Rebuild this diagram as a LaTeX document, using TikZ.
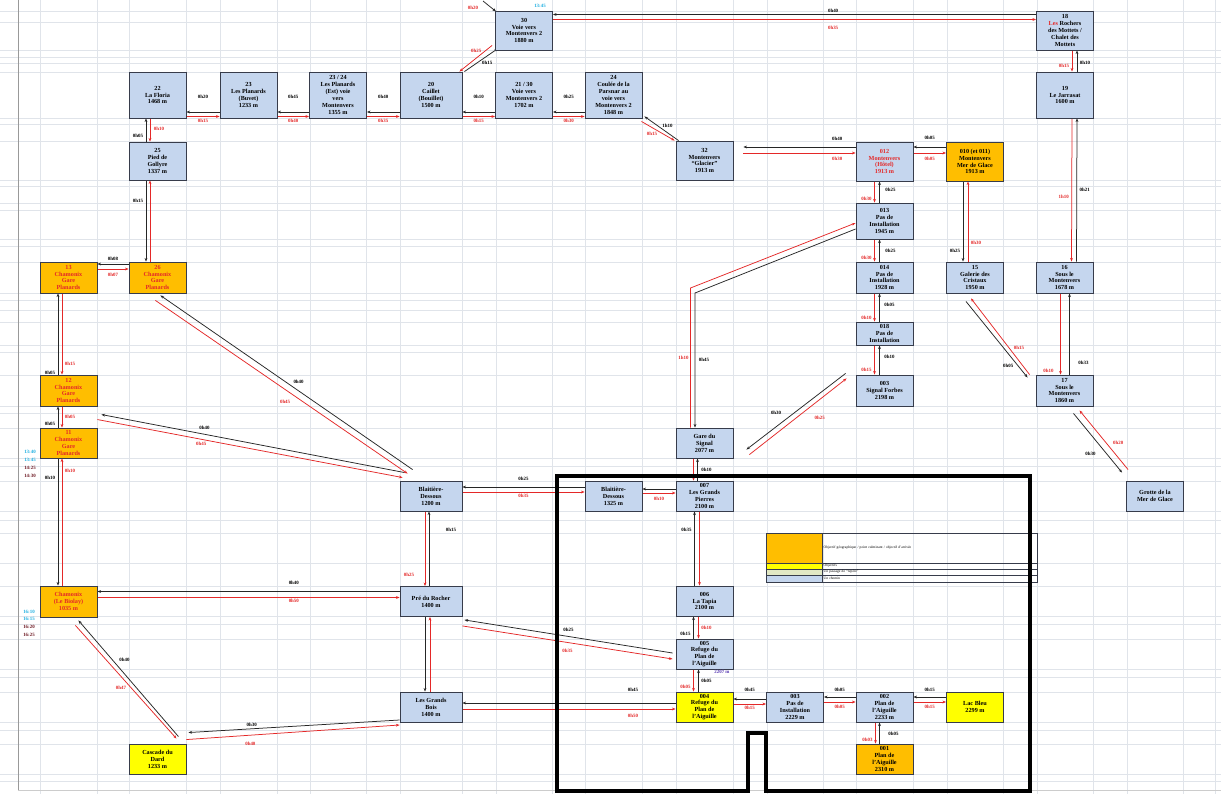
\documentclass[tikz,border=0pt]{standalone}
\usepackage{fontspec}
\setmainfont{Liberation Serif}
\usetikzlibrary{arrows.meta}
\definecolor{bl}{RGB}{197,214,238}
\definecolor{org}{RGB}{255,190,0}
\definecolor{yel}{RGB}{255,255,0}
\definecolor{bord}{RGB}{55,60,75}
\definecolor{rline}{RGB}{228,40,40}
\definecolor{gridc}{RGB}{224,228,234}
\definecolor{cyn}{RGB}{30,175,225}
\definecolor{mar}{RGB}{110,25,35}
\definecolor{purp}{RGB}{90,60,180}
\definecolor{pale}{RGB}{226,232,196}
\pgfdeclarelayer{gridlayer}
\pgfdeclarelayer{connlayer}
\pgfsetlayers{gridlayer,connlayer,main}
\tikzset{
  box/.style={draw=bord, line width=0.9pt, fill=bl, minimum width=57pt, minimum height=30pt, inner sep=0.5pt, align=center, font=\fontsize{6.2}{6.9}\selectfont\bfseries},
  obox/.style={box, fill=org},
  ybox/.style={box, fill=yel},
  arrowtip/.style={-{Stealth[length=3.6pt,width=2.8pt]}},
  bk/.style={draw=black!85, line width=0.75pt, arrowtip},
  rd/.style={draw=rline, line width=0.75pt, arrowtip},
  lb/.style={font=\fontsize{4.9}{4.9}\selectfont\bfseries, text=black, inner sep=0.6pt},
  lr/.style={lb, text=rline},
  lc/.style={lb, text=cyn},
  lm/.style={lb, text=mar},
  gl/.style={draw=gridc, line width=0.5pt},
  legbox/.style={draw=bord, line width=0.45pt, minimum width=56pt, inner sep=0pt},
  legtxt/.style={draw=bord, line width=0.45pt, minimum width=215pt, inner sep=0.8pt, text width=212pt, align=left, anchor=west, font=\fontsize{3.6}{3.8}\selectfont},
}
\begin{document}
\begin{tikzpicture}[x=1pt,y=-1pt]
\useasboundingbox (0,0) rectangle (1221,794);

\begin{pgfonlayer}{gridlayer}
\fill[white] (0,0) rectangle (1221,794);
\foreach \x in {40,97,129,186,220,277,310,366,400,462,496,552,585,642,676,733,767,823,856,913,947,1003,1037,1093,1127,1183,1215}
  \draw[gl] (\x,0) -- (\x,794);
\foreach \y in {11,22,50,57,63,72,118,124,141,180,186,203,210,239,246,262,293,300,310,322,345,352,375,406,413,428,458,466,481,511,520,533,563,586,616,624,639,669,677,692,722,730,744,774,781}
  \draw[gl] (0,\y) -- (1221,\y);
\draw[draw=black!40, line width=0.6pt] (18,0) -- (18,790);
\draw[draw=black!20, line width=0.5pt] (18,790) -- (1221,790);
\end{pgfonlayer}

% ---------- nodes ----------
\node[box, minimum height=46pt] (n22) at (157.5,95) {22\\La Floria\\1468 m};
\node[box, minimum height=46pt] (n23) at (248.5,95) {23\\Les Planards\\(Buvet)\\1233 m};
\node[box, minimum height=46pt] (n2324) at (338,95) {23 / 24\\Les Planards\\(Est) voie\\vers\\Montenvers\\1355 m};
\node[box, minimum height=46pt, minimum width=62pt] (n20) at (431,95) {20\\Caillet\\(Bouillet)\\1500 m};
\node[box, minimum height=46pt] (n21) at (524,95) {21 / 30\\Voie vers\\Montenvers 2\\1702 m};
\node[box, minimum height=46pt] (n24) at (613.5,95) {24\\Coulée de la\\Parsnar au\\voie vers\\Montenvers 2\\1848 m};
\node[box, minimum height=39pt] (n30) at (524,30.5) {30\\Voie vers\\Montenvers 2\\1880 m};
\node[box, minimum height=38pt] (n25) at (157.5,161) {25\\Pied de\\Gollyre\\1337 m};
\node[box, minimum height=39pt] (n32) at (704.5,160.5) {32\\Montenvers\\“Glacier”\\1913 m};
\node[box, minimum height=39pt] (n18) at (1065,30.5) {18\\\textcolor{rline}{Les} Rochers\\des Mottets /\\Chalet des\\Mottets};
\node[box, minimum height=46pt] (n19) at (1065,95) {19\\Le Jarrasat\\1600 m};
\node[box, minimum height=39pt, text=rline] (n012) at (884.5,161.5) {012\\Montenvers\\(Hôtel)\\1913 m};
\node[obox, minimum height=39pt] (n010) at (975,161.5) {010 (et 011)\\Montenvers\\Mer de Glace\\1913 m};
\node[box, minimum height=36pt] (n013) at (884.5,221) {013\\Pas de\\Installation\\1945 m};
\node[box, minimum height=31pt] (n014) at (884.5,277.5) {014\\Pas de\\Installation\\1928 m};
\node[box, minimum height=23pt] (n018) at (884.5,333.5) {018\\Pas de\\Installation};
\node[box, minimum height=31pt] (sigf) at (884.5,390.5) {003\\Signal Forbes\\2198 m};
\node[box, minimum height=31pt] (n15) at (975,277.5) {15\\Galerie des\\Cristaux\\1950 m};
\node[box, minimum height=31pt] (n16) at (1064.5,277.5) {16\\Sous le\\Montenvers\\1678 m};
\node[box, minimum height=31pt] (n17) at (1064.5,390.5) {17\\Sous le\\Montenvers\\1860 m};
\node[box] (grotte) at (1155,496) {Grotte de la\\Mer de Glace};

\node[obox, minimum height=31pt, text=rline] (l1) at (68.5,277.5) {13\\Chamonix\\Gare\\Planards};
\node[obox, minimum height=31pt, text=rline] (l2) at (157.5,277.5) {26\\Chamonix\\Gare\\Planards};
\node[obox, minimum height=31pt, text=rline] (l3) at (68.5,390.5) {12\\Chamonix\\Gare\\Planards};
\node[obox, minimum height=30pt, text=rline] (l4) at (68.5,443) {11\\Chamonix\\Gare\\Planards};
\node[obox, minimum height=31pt, text=rline] (biolay) at (68.5,601.5) {Chamonix\\(Le Biolay)\\1035 m};
\node[ybox] (cascade) at (157.5,759) {Cascade du\\Dard\\1233 m};

\node[box, minimum width=62pt] (blaitA) at (431,496) {Blaitière-\\Dessous\\1200 m};
\node[box, minimum width=62pt] (pre) at (431,601.5) {Pré du Rocher\\1400 m};
\node[box, minimum width=62pt] (bois) at (431,707) {Les Grands\\Bois\\1400 m};
\node[box] (blaitB) at (613.5,496) {Blaitière-\\Dessous\\1325 m};
\node[box] (gare) at (704.5,443) {Gare du\\Signal\\2077 m};
\node[box] (n007) at (704.5,496) {007\\Les Grands\\Pierres\\2100 m};
\node[box] (n006) at (704.5,601) {006\\La Tapia\\2100 m};
\node[box] (n005) at (704.5,654) {005\\Refuge du\\Plan de\\l'Aiguille};
\node[ybox] (n004) at (704.5,707) {004\\Refuge du\\Plan de\\l'Aiguille};
\node[box] (pas3) at (795,707) {003\\Pas de\\Installation\\2229 m};
\node[box] (n002) at (884.5,707) {002\\Plan de\\l'Aiguille\\2233 m};
\node[ybox] (lac) at (975,707) {Lac Bleu\\2299 m};
\node[obox] (n001) at (884.5,759) {001\\Plan de\\l'Aiguille\\2310 m};

% small texts
\node[lc] (t30) at (540,6) {13:45};
\node[lc] (ta) at (30,452) {13:40};
\node[lc] (tb) at (30,460) {13:45};
\node[lm] (tc) at (30,468) {14:25};
\node[lm] (td) at (30,476) {14:30};
\node[lc] (te) at (29,612) {16:10};
\node[lc] (tf) at (29,619) {16:15};
\node[lm] (tg) at (29,627) {16:20};
\node[lm] (th) at (29,635) {16:25};
\node[lb, text=purp] (alt5) at (722,672) {2207 m};
\node[lr] (tin30) at (473,8) {0h20};

% legend
\node[legbox, fill=org, minimum height=30pt] (lgo) at (794,548) {};
\node[legtxt, minimum height=30pt] (lgot) at (822,548) {Objectif géographique / point culminant / objectif d'arrivée};
\node[legbox, fill=yel, minimum height=6pt] (lgy) at (794,566) {};
\node[legtxt, minimum height=6pt] (lgyt) at (822,566) {Objectifs};
\node[legbox, fill=pale, minimum height=6pt] (lgp) at (794,572) {};
\node[legtxt, minimum height=6pt] (lgpt) at (822,572) {Un passage de “repère”};
\node[legbox, fill=bl, minimum height=7pt] (lgb) at (794,578.5) {};
\node[legtxt, minimum height=7pt] (lgbt) at (822,578.5) {Un chemin};

% thick frame
\draw[line width=4.5pt, line join=miter] (557,476) -- (1030,476) -- (1030,791) -- (766,791) -- (766,733) -- (748,733) -- (748,791) -- (557,791) -- cycle;

% ---------- connectors ----------
\begin{pgfonlayer}{connlayer}
% top row
\draw[bk] ([yshift=-17pt]n23.west) -- node[lb,above=12pt]{0h20} ([yshift=-17pt]n22.east);
\draw[rd] ([yshift=-21.5pt]n22.east) -- node[lr,below=2pt]{0h15} ([yshift=-21.5pt]n23.west);
\draw[bk] ([yshift=-17pt]n2324.west) -- node[lb,above=12pt]{0h45} ([yshift=-17pt]n23.east);
\draw[rd] ([yshift=-21.5pt]n23.east) -- node[lr,below=2pt]{0h40} ([yshift=-21.5pt]n2324.west);
\draw[bk] ([yshift=-17pt]n20.west) -- node[lb,above=12pt]{0h40} ([yshift=-17pt]n2324.east);
\draw[rd] ([yshift=-21.5pt]n2324.east) -- node[lr,below=2pt]{0h35} ([yshift=-21.5pt]n20.west);
\draw[bk] ([yshift=-17pt]n21.west) -- node[lb,above=12pt]{0h10} ([yshift=-17pt]n20.east);
\draw[rd] ([yshift=-21.5pt]n20.east) -- node[lr,below=2pt]{0h15} ([yshift=-21.5pt]n21.west);
\draw[bk] ([yshift=-17pt]n24.west) -- node[lb,above=12pt]{0h25} ([yshift=-17pt]n21.east);
\draw[rd] ([yshift=-21.5pt]n21.east) -- node[lr,below=2pt]{0h30} ([yshift=-21.5pt]n24.west);
% n20 - n30
\draw[rd] ([xshift=-3pt,yshift=5pt]n30.south west) -- node[lr,above left=0pt,pos=0.3]{0h25} ([xshift=-3pt]n20.north east);
\draw[bk] ([xshift=2pt]n20.north east) -- node[lb,below right=0pt]{0h15} ([xshift=3pt,yshift=2pt]n30.south west);
\coordinate (tin) at (483,1);
\draw[bk] (tin) -- ([xshift=1pt,yshift=-1pt]n30.north west);
% n30 - n18
\draw[bk] ([yshift=16pt]n18.west) -- node[lb,above=1pt,pos=0.42]{0h40} ([yshift=16pt]n30.east);
\draw[rd] ([yshift=11pt]n30.east) -- node[lr,below=6pt,pos=0.58]{0h35} ([yshift=11pt]n18.west);
% n24 - n32
\draw[bk] ([xshift=3pt]n32.north west) -- node[lb,above right=0pt]{1h10} ([xshift=2pt,yshift=2pt]n24.south east);
\draw[rd] ([xshift=-1pt,yshift=-3pt]n24.south east) -- node[lr,below left=0pt]{0h15} ([xshift=-1pt]n32.north west);
% n32 - n012
\draw[bk, shorten >=10pt] ([yshift=14.5pt]n012.west) -- node[lb,above=5pt,pos=0.15]{0h40} ([yshift=14.5pt]n012.west -| n32.east);
\draw[rd, shorten <=10pt] ([yshift=8.5pt]n012.west -| n32.east) -- node[lr,below=3pt,pos=0.85]{0h30} ([yshift=8.5pt]n012.west);
% n012 - n010
\draw[bk] ([yshift=14.5pt]n010.west) -- node[lb,above=6pt]{0h05} ([yshift=14.5pt]n012.east);
\draw[rd] ([yshift=8.5pt]n012.east) -- node[lr,below=3pt]{0h05} ([yshift=8.5pt]n010.west);
% right column
\draw[bk] ([xshift=12pt]n19.north) -- node[lb,right=2pt,pos=0.4]{0h10} ([xshift=12pt]n18.south);
\draw[rd] ([xshift=7pt]n18.south) -- node[lr,left=2pt,pos=0.75]{0h15} ([xshift=7pt]n19.north);
\draw[bk] ([xshift=12pt]n16.north) -- node[lb,right=2pt,pos=0.5]{0h21} ([xshift=12pt]n19.south);
\draw[rd] ([xshift=7pt]n19.south) -- node[lr,left=2pt,pos=0.55]{1h10} ([xshift=7pt]n16.north);
\draw[bk] ([xshift=5pt]n17.north) -- node[lb,right=8pt,pos=0.15]{0h33} ([xshift=5pt]n16.south);
\draw[rd] ([xshift=-4pt]n16.south) -- node[lr,left=6pt,pos=0.95]{0h10} ([xshift=-4pt]n17.north);
\draw[bk] ([xshift=-12pt]n010.south) -- node[lb,left=2pt,pos=0.86]{0h25} ([xshift=-12pt]n15.north);
\draw[rd] ([xshift=-7pt]n15.north) -- node[lr,right=2pt,pos=0.23]{0h30} ([xshift=-7pt]n010.south);
% Montenvers descent
\draw[bk] ([xshift=-5pt]n013.north) -- node[lb,right=5pt,pos=0.6]{0h25} ([xshift=-5pt]n012.south);
\draw[rd] ([xshift=-10pt]n012.south) -- node[lr,left=2pt,pos=0.8]{0h30} ([xshift=-10pt]n013.north);
\draw[bk] ([xshift=-5pt]n014.north) -- node[lb,right=5pt,pos=0.5]{0h25} ([xshift=-5pt]n013.south);
\draw[rd] ([xshift=-10pt]n013.south) -- node[lr,left=2pt,pos=0.85]{0h30} ([xshift=-10pt]n014.north);
\draw[bk] ([xshift=-5pt]n018.north) -- node[lb,right=4pt,pos=0.6]{0h05} ([xshift=-5pt]n014.south);
\draw[rd] ([xshift=-10pt]n014.south) -- node[lr,left=2pt,pos=0.85]{0h10} ([xshift=-10pt]n018.north);
\draw[bk] ([xshift=-5pt]sigf.north) -- node[lb,right=4pt,pos=0.6]{0h10} ([xshift=-5pt]n018.south);
\draw[rd] ([xshift=-10pt]n018.south) -- node[lr,left=2pt,pos=0.85]{0h15} ([xshift=-10pt]sigf.north);
% n15 - n17
\draw[rd] ([xshift=-6pt]n17.north west) -- node[lr,above right=1pt,pos=0.3]{0h15} ([xshift=-4pt,yshift=-5pt]n15.south);
\draw[bk] ([xshift=-9pt,yshift=-8pt]n15.south) -- node[lb,below left=1pt,pos=0.8]{0h05} ([xshift=-8pt,yshift=-3pt]n17.north west);
% n17 - grotte
\draw[bk] ([xshift=9pt,yshift=-7pt]n17.south) -- node[lb,left=10pt,pos=0.68]{0h30} ([xshift=-4pt,yshift=8pt]grotte.north west);
\draw[rd] ([xshift=2pt,yshift=11pt]grotte.north west) -- node[lr,right=6pt,pos=0.45]{0h20} ([xshift=15pt,yshift=-4pt]n17.south);
% n013 - gare
\coordinate (kR) at (690.5,288);
\coordinate (kB) at (695,293);
\draw[rd] (kR |- gare.north) -- node[lr,left=1pt,pos=0.5]{1h10} (kR) -- ([yshift=-2pt]n013.west);
\draw[bk] ([yshift=-8pt]n013.west) -- (kB) -- node[lb,right=3pt,pos=0.5]{0h45} (kB |- gare.north);
% gare - signal forbes
\draw[bk] ([xshift=-10pt,yshift=33pt]sigf.south west) -- node[lb,above left=4pt,pos=0.6]{0h30} ([xshift=13pt,yshift=-22pt]gare.north east);
\draw[rd] ([xshift=16pt,yshift=-27pt]gare.north east) -- node[lr,below right=6pt,pos=0.6]{0h25} ([xshift=-9pt,yshift=28pt]sigf.south west);
% gare - n007
\draw[bk] ([xshift=-7pt]n007.north) -- node[lb,right=3pt]{0h10} ([xshift=-7pt]gare.south);
\draw[rd] ([xshift=-11pt]gare.south) -- ([xshift=-11pt]n007.north);
% n007 - blaitB - blaitA
\draw[bk] ([yshift=7pt]n007.west) -- ([yshift=7pt]blaitB.east);
\draw[rd] ([yshift=3pt]blaitB.east) -- node[lr,below=3pt]{0h10} ([yshift=3pt]n007.west);
\draw[bk] ([yshift=9pt]blaitB.west) -- node[lb,above=5pt]{0h25} ([yshift=9pt]blaitA.east);
\draw[rd] ([yshift=4pt]blaitA.east) -- node[lr,below=1pt]{0h35} ([yshift=4pt]blaitB.west);
% n007 - n006 - n005 - n004
\draw[bk] ([xshift=-10pt]n006.north) -- node[lb,left=2pt,pos=0.75]{0h35} ([xshift=-10pt]n007.south);
\draw[rd] ([xshift=-5pt]n007.south) -- ([xshift=-5pt]n006.north);
\draw[bk] ([xshift=-11pt]n005.north) -- node[lb,left=2pt,pos=0.2]{0h15} ([xshift=-11pt]n006.south);
\draw[rd] ([xshift=-6pt]n006.south) -- node[lr,right=2pt,pos=0.5]{0h10} ([xshift=-6pt]n005.north);
\draw[bk] ([xshift=-6pt]n004.north) -- node[lb,right=2pt,pos=0.5]{0h05} ([xshift=-6pt]n005.south);
\draw[rd] ([xshift=-11pt]n005.south) -- node[lr,left=2pt,pos=0.8]{0h05} ([xshift=-11pt]n004.north);
% bottom row
\draw[bk] ([yshift=8pt]pas3.west) -- node[lb,above=6pt]{0h45} ([yshift=8pt]n004.east);
\draw[rd] ([yshift=3pt]n004.east) -- node[lr,below=1pt]{0h15} ([yshift=3pt]pas3.west);
\draw[bk] ([yshift=10pt]n002.west) -- node[lb,above=4pt]{0h05} ([yshift=10pt]pas3.east);
\draw[rd] ([yshift=5pt]pas3.east) -- node[lr,below=2pt]{0h05} ([yshift=5pt]n002.west);
\draw[bk] ([yshift=10pt]lac.west) -- node[lb,above=4pt]{0h15} ([yshift=10pt]n002.east);
\draw[rd] ([yshift=5pt]n002.east) -- node[lr,below=2pt]{0h15} ([yshift=5pt]lac.west);
\draw[bk] ([xshift=-5pt]n001.north) -- node[lb,right=8pt,pos=0.45]{0h05} ([xshift=-5pt]n002.south);
\draw[rd] ([xshift=-9pt]n002.south) -- node[lr,left=2pt,pos=0.8]{0h03} ([xshift=-9pt]n001.north);
\draw[bk] ([yshift=4pt]n004.west) -- node[lb,above=10pt,pos=0.2]{0h45} ([yshift=4pt]bois.east);
\draw[rd] ([yshift=-2pt]bois.east) -- node[lr,below=4pt,pos=0.8]{0h50} ([yshift=-2pt]n004.west);
% pre - n005
\draw[bk] ([xshift=-3pt,yshift=1pt]n005.west) -- node[lb,above=4pt]{0h25} ([xshift=2pt,yshift=-3pt]pre.south east);
\draw[rd] ([yshift=-9pt]pre.south east) -- node[lr,below=6pt]{0h35} ([xshift=-3pt,yshift=-5pt]n005.west);
% blaitA - pre - bois
\draw[bk] ([xshift=-2pt]pre.north) -- node[lb,right=16pt,pos=0.75]{0h15} ([xshift=-2pt]blaitA.south);
\draw[rd] ([xshift=-6pt]blaitA.south) -- node[lr,left=10pt,pos=0.85]{0h25} ([xshift=-6pt]pre.north);
\draw[bk] ([xshift=-6pt]pre.south) -- ([xshift=-6pt]bois.north);
\draw[rd] ([xshift=-1pt]bois.north) -- ([xshift=-1pt]pre.south);
% pre - biolay
\draw[bk] ([yshift=10pt]pre.west) -- node[lb,above=6pt,pos=0.35]{0h40} ([yshift=10pt]biolay.east);
\draw[rd] ([yshift=4pt]biolay.east) -- node[lr,below=1pt,pos=0.65]{0h50} ([yshift=4pt]pre.west);
% bois - cascade
\draw[bk] ([yshift=-13pt]bois.west) -- node[lb,above=1pt,pos=0.7]{0h30} ([xshift=2pt,yshift=11pt]cascade.north east);
\draw[rd] ([yshift=4pt]cascade.north east) -- node[lr,below=6pt,pos=0.3]{0h40} ([yshift=-18pt]bois.west);
% cascade - biolay
\draw[bk] ([xshift=-8pt,yshift=7pt]cascade.north east) -- node[lb,above right=2pt,pos=0.62]{0h40} ([xshift=-19pt,yshift=-3pt]biolay.south east);
\draw[rd] ([xshift=-22pt,yshift=-8pt]biolay.south east) -- node[lr,below left=1pt,pos=0.52]{0h47} ([xshift=-10pt,yshift=5pt]cascade.north east);
% blaitA - l4
\draw[bk] ([xshift=5pt,yshift=8pt]blaitA.north west) -- node[lb,above=4pt,pos=0.66]{0h40} ([xshift=4pt,yshift=13pt]l4.north east);
\draw[rd] ([yshift=8pt]l4.north east) -- node[lr,below=2pt,pos=0.34]{0h45} ([xshift=3pt,yshift=3pt]blaitA.north west);
% blaitA - l2
\draw[bk] ([xshift=13pt,yshift=11pt]blaitA.north west) -- node[lb,above right=1pt,pos=0.48]{0h40} ([xshift=-26pt,yshift=-2pt]l2.south east);
\draw[rd] ([xshift=-31pt,yshift=-7pt]l2.south east) -- node[lr,below left=3pt,pos=0.55]{0h45} ([xshift=8pt,yshift=7pt]blaitA.north west);
% l1 - l2
\draw[bk] ([yshift=13.5pt]l2.west) -- node[lb,above=2pt]{0h08} ([yshift=13.5pt]l1.east);
\draw[rd] ([yshift=8.5pt]l1.east) -- node[lr,below=3pt]{0h07} ([yshift=8.5pt]l2.west);
% left column
\draw[bk] ([xshift=-10.5pt]l3.north) -- node[lb,left=2pt,pos=0.02]{0h05} ([xshift=-10.5pt]l1.south);
\draw[rd] ([xshift=-6.5pt]l1.south) -- node[lr,right=2pt,pos=0.87]{0h15} ([xshift=-6.5pt]l3.north);
\draw[bk] ([xshift=-10.5pt]l4.north) -- node[lb,left=2pt,pos=0.2]{0h05} ([xshift=-10.5pt]l3.south);
\draw[rd] ([xshift=-6.5pt]l3.south) -- node[lr,right=2pt,pos=0.5]{0h05} ([xshift=-6.5pt]l4.north);
\draw[bk] ([xshift=-10.5pt]l4.south) -- node[lb,left=2pt,pos=0.15]{0h10} ([xshift=-10.5pt]biolay.north);
\draw[rd] ([xshift=-6.5pt]biolay.north) -- node[lr,right=2pt,pos=0.9]{0h10} ([xshift=-6.5pt]l4.south);
% n22 - n25 - l2
\draw[bk] ([xshift=-11.5pt]n25.north) -- node[lb,left=2pt,pos=0.25]{0h05} ([xshift=-11.5pt]n22.south);
\draw[rd] ([xshift=-7.5pt]n22.south) -- node[lr,right=3pt,pos=0.45]{0h10} ([xshift=-7.5pt]n25.north);
\draw[bk] ([xshift=-11.5pt]n25.south) -- node[lb,left=2pt,pos=0.25]{0h15} ([xshift=-11.5pt]l2.north);
\draw[rd] ([xshift=-7.5pt]l2.north) -- ([xshift=-7.5pt]n25.south);
\end{pgfonlayer}
\end{tikzpicture}
\end{document}
